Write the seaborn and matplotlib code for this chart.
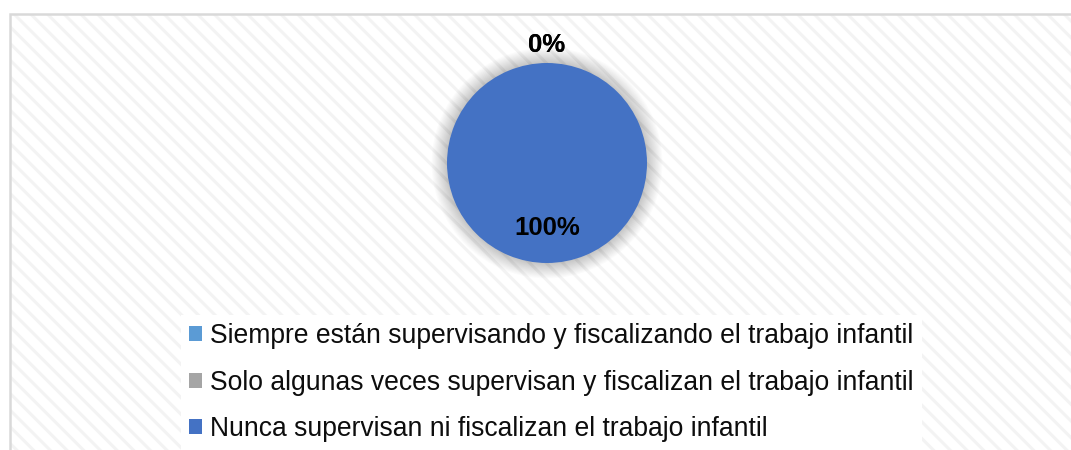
import matplotlib
matplotlib.use("Agg")
import matplotlib.pyplot as plt
import seaborn as sns
import numpy as np
from matplotlib.patches import Rectangle, Circle, Patch

sns.set_theme(style="white")
plt.rcParams['font.family'] = ['Liberation Sans', 'DejaVu Sans']
plt.rcParams['hatch.linewidth'] = 2.2
plt.rcParams['hatch.color'] = '#f3f3f3'

categories = [
    "Siempre están supervisando y fiscalizando el trabajo infantil",
    "Solo algunas veces supervisan y fiscalizan el trabajo infantil",
    "Nunca supervisan ni fiscalizan el trabajo infantil",
]
values = [0, 0, 100]
colors = ["#5B9BD5", "#A5A5A5", "#4472C4"]

W, H = 1071, 450
fig = plt.figure(figsize=(W / 100, H / 100), dpi=100)
fig.patch.set_facecolor('white')

# hatched chart area background with border
bg = Rectangle((10 / W, 0), 1.0, 1 - 14 / H, transform=fig.transFigure,
               facecolor='white', edgecolor='#f3f3f3', hatch='\\\\', lw=0, zorder=-10)
fig.patches.append(bg)
border = Rectangle((10 / W, -0.1), 1.1, 1.1 - 14 / H, transform=fig.transFigure,
                   facecolor='none', edgecolor='#d9d9d9', lw=1.8, zorder=-9)
fig.patches.append(border)

cx, cy, r = 547, 163, 100
half = 150
ax = fig.add_axes([(cx - half) / W, (H - cy - half) / H, 2 * half / W, 2 * half / H])
ax.axis('off')
ax.patch.set_alpha(0)
ax.set_zorder(2)

# soft shadow glow
for k in range(14):
    rad = 1.0 + 0.011 * (k + 1)
    ax.add_patch(Circle((0, 0), rad, color='#000000', alpha=0.016, lw=0, zorder=0))

wedges, texts, autotexts = ax.pie(
    values, colors=colors, startangle=90, counterclock=False, radius=1.0,
    autopct=lambda p: f"{p:.0f}%", pctdistance=0.65,
    wedgeprops=dict(linewidth=0),
    textprops=dict(fontsize=18.5, fontweight='bold', color='black'),
)
for w, t, v in zip(wedges, autotexts, values):
    ang = np.deg2rad((w.theta1 + w.theta2) / 2)
    dist = 1.18 if v == 0 else 0.65
    t.set_position((dist * np.cos(ang), dist * np.sin(ang)))
    t.set_zorder(5)
ax.set_xlim(-1.5, 1.5)
ax.set_ylim(-1.5, 1.5)
ax.set_aspect('equal')

handles = [Patch(facecolor=c, edgecolor='none') for c in colors]
leg = fig.legend(handles, categories, loc='upper left',
                 bbox_to_anchor=(181 / W, 1 - 315 / H),
                 fontsize=19.1, frameon=True, facecolor='white', edgecolor='none',
                 framealpha=1, fancybox=False, handlelength=0.5, handleheight=0.5,
                 handletextpad=0.3, labelspacing=0.78, borderpad=0.3, borderaxespad=0)
for t in leg.get_texts():
    t.set_color('#0d0d0d')

fig.savefig("out.png", dpi=100)
